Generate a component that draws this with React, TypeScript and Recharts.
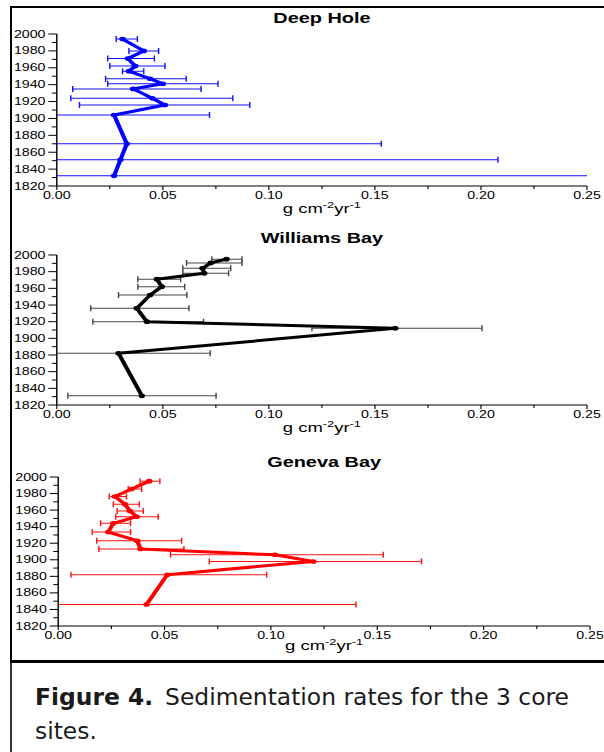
import { ComposedChart, Line, XAxis, YAxis, ErrorBar } from "recharts";

// the source figure is stretched sideways, so each panel is drawn narrow and scaled
const STRETCH = 1.42;
const CHART_W = 425;
const FONT = '"Liberation Sans", Arial, sans-serif';

const YEAR_TICKS = [
  1820, 1830, 1840, 1850, 1860, 1870, 1880, 1890, 1900, 1910, 1920, 1930,
  1940, 1950, 1960, 1970, 1980, 1990, 2000,
];
const RATE_TICKS = [
  0, 0.025, 0.05, 0.075, 0.1, 0.125, 0.15, 0.175, 0.2, 0.225, 0.25,
];

const deepYears = [1994, 1980, 1971, 1962, 1956, 1947, 1941, 1935, 1924, 1916, 1904, 1870, 1851, 1832];
const deepRates = [0.031, 0.041, 0.0335, 0.037, 0.034, 0.044, 0.05, 0.036, 0.045, 0.051, 0.027, 0.033, 0.03, 0.027];
const deepLow = [0.028, 0.034, 0.024, 0.025, 0.031, 0.023, 0.024, 0.0075, 0.0066, 0.0107, -0.019, -0.087, -0.148, -0.223];
const deepHigh = [0.038, 0.048, 0.046, 0.051, 0.041, 0.061, 0.076, 0.068, 0.083, 0.091, 0.072, 0.153, 0.208, 0.277];

const williamsYears = [1995, 1990.5, 1984, 1978, 1971, 1962, 1952, 1936, 1920, 1912, 1882, 1831];
const williamsRates = [0.08, 0.0726, 0.0687, 0.0695, 0.0472, 0.0495, 0.044, 0.0377, 0.0425, 0.1596, 0.0291, 0.0401];
const williamsLow = [0.0731, 0.0612, 0.0594, 0.0594, 0.0382, 0.0382, 0.0291, 0.016, 0.017, 0.1203, -0.0141, 0.0052];
const williamsHigh = [0.0873, 0.0873, 0.082, 0.081, 0.0584, 0.0603, 0.0613, 0.0623, 0.0692, 0.2005, 0.0723, 0.0751];

const genevaYears = [1995, 1985.5, 1976.5, 1967, 1959, 1952, 1944, 1933.5, 1923, 1913, 1906, 1898, 1882, 1846];
const genevaRates = [0.0428, 0.0345, 0.0267, 0.0314, 0.0337, 0.0369, 0.0259, 0.0235, 0.0371, 0.0387, 0.1019, 0.1199, 0.0513, 0.0415];
const genevaLow = [0.0385, 0.0329, 0.024, 0.0259, 0.0277, 0.027, 0.0199, 0.016, 0.0181, 0.0191, 0.0528, 0.071, 0.006, -0.057];
const genevaHigh = [0.0478, 0.0392, 0.0321, 0.0381, 0.04, 0.047, 0.034, 0.034, 0.058, 0.0591, 0.1528, 0.1708, 0.098, 0.14];

type Row = { year: number; rate: number; err: [number, number] };

function buildRows(years: number[], rates: number[], low: number[], high: number[]): Row[] {
  return years.map((year, i) => ({
    year,
    rate: rates[i],
    err: [rates[i] - low[i], high[i] - rates[i]],
  }));
}

function YearTick(props: any) {
  const { x, y, payload } = props;
  const axisX = x + 8; // tickSize 6 + tickMargin 2
  const major = payload.value % 20 === 0;
  return (
    <g>
      <line x1={axisX - (major ? 6 : 3.5)} x2={axisX} y1={y} y2={y} stroke="#000" />
      {major && (
        <text x={x} y={y} dy="0.36em" textAnchor="end" fontSize={10} fontFamily={FONT} fill="#000">
          {payload.value}
        </text>
      )}
    </g>
  );
}

function RateTick(props: any) {
  const { x, y, payload } = props;
  const axisY = y - 6; // tickSize 4 + tickMargin 2
  const major = Math.round(payload.value * 1000) % 50 === 0;
  return (
    <g>
      <line x1={x} x2={x} y1={axisY} y2={axisY + (major ? 4 : 3)} stroke="#000" strokeWidth={0.8} />
      {major && (
        <text x={x} y={y} dy="0.72em" textAnchor="middle" fontSize={10} fontFamily={FONT} fill="#000">
          {payload.value.toFixed(2)}
        </text>
      )}
    </g>
  );
}

function Panel({
  id,
  top,
  height,
  marginTop,
  marginRight,
  axisWidth,
  axisHeight,
  title,
  titleTop,
  labelTop,
  rows,
  color,
  barColor,
}: {
  id: string;
  top: number;
  height: number;
  marginTop: number;
  marginRight: number;
  axisWidth: number;
  axisHeight: number;
  title: string;
  titleTop: number;
  labelTop: number;
  rows: Row[];
  color: string;
  barColor: string;
}) {
  const cx = (axisWidth + CHART_W - marginRight) / 2;
  const plotW = CHART_W - marginRight - axisWidth;
  const plotH = height - marginTop - axisHeight;
  return (
    <div
      id={id}
      style={{
        position: "absolute",
        left: 0,
        top,
        width: CHART_W,
        height,
        transform: `scaleX(${STRETCH})`,
        transformOrigin: "0 0",
      }}
    >
      {/* error bars are cut at the plot edges, like the original */}
      <svg width={0} height={0} style={{ position: "absolute" }}>
        <defs>
          <clipPath id={`${id}-clip`} clipPathUnits="userSpaceOnUse">
            <rect x={axisWidth} y={marginTop - 4} width={plotW} height={plotH + 8} />
          </clipPath>
        </defs>
      </svg>
      <style>{`#${id} .recharts-errorBars { clip-path: url(#${id}-clip); }`}</style>
      <div
        style={{
          position: "absolute",
          left: 0,
          top: titleTop,
          width: cx * 2,
          textAlign: "center",
          fontFamily: FONT,
          fontWeight: 700,
          fontSize: 14,
          lineHeight: "14px",
          color: "#000",
        }}
      >
        {title}
      </div>
      <ComposedChart
        layout="vertical"
        width={CHART_W}
        height={height}
        data={rows}
        margin={{ top: marginTop, right: marginRight, bottom: 0, left: 0 }}
      >
        <XAxis
          type="number"
          domain={[0, 0.25]}
          ticks={RATE_TICKS}
          interval={0}
          allowDataOverflow
          height={axisHeight}
          tickSize={4}
          tickMargin={2}
          tickLine={false}
          tick={<RateTick />}
          axisLine={{ stroke: "#000" }}
        />
        <XAxis
          xAxisId="top"
          orientation="top"
          type="number"
          domain={[0, 0.25]}
          height={0}
          tick={false}
          tickLine={false}
          axisLine={{ stroke: "#333", strokeWidth: 1.5 }}
        />
        <YAxis
          type="number"
          dataKey="year"
          domain={[1820, 2000]}
          ticks={YEAR_TICKS}
          interval={0}
          reversed
          allowDataOverflow
          width={axisWidth}
          tickSize={6}
          tickMargin={2}
          tickLine={false}
          tick={<YearTick />}
          axisLine={{ stroke: "#000" }}
        />
        <YAxis
          yAxisId="right"
          orientation="right"
          type="number"
          domain={[1820, 2000]}
          width={0}
          tick={false}
          tickLine={false}
          axisLine={{ stroke: "#8a8a8a", strokeWidth: 1.5 }}
        />
        <Line
          type="linear"
          dataKey="rate"
          stroke={color}
          strokeWidth={3}
          strokeLinejoin="round"
          dot={{ r: 1.8, fill: color, stroke: color, strokeWidth: 1 }}
          isAnimationActive={false}
        >
          <ErrorBar
            dataKey="err"
            direction="x"
            width={3}
            stroke={barColor}
            strokeWidth={1}
            isAnimationActive={false}
          />
        </Line>
      </ComposedChart>
      <div
        style={{
          position: "absolute",
          left: 0,
          top: labelTop,
          width: cx * 2,
          textAlign: "center",
          fontFamily: FONT,
          fontSize: 13,
          lineHeight: "13px",
          color: "#000",
        }}
      >
        g cm<sup style={{ fontSize: 9, lineHeight: 0 }}>-2</sup>yr
        <sup style={{ fontSize: 9, lineHeight: 0 }}>-1</sup>
      </div>
    </div>
  );
}

export default function App() {
  return (
    <div
      style={{
        position: "absolute",
        left: 0,
        top: 0,
        width: 604,
        height: 752,
        overflow: "hidden",
        background: "#fff",
      }}
    >
      <div
        style={{
          position: "absolute",
          left: 10,
          top: 6,
          width: 700,
          height: 652,
          borderTop: "2px solid #000",
          borderLeft: "2px solid #000",
          borderBottom: "3px solid #000",
        }}
      />
      <div
        style={{
          position: "absolute",
          left: 10,
          top: 663,
          height: 100,
          borderLeft: "2px solid #333",
        }}
      />
      <Panel
        id="deep-hole"
        top={0}
        height={215}
        marginTop={34}
        marginRight={11.6}
        axisWidth={40}
        axisHeight={29}
        title="Deep Hole"
        titleTop={10.8}
        labelTop={202}
        rows={buildRows(deepYears, deepRates, deepLow, deepHigh)}
        color="#0000ff"
        barColor="#1010ff"
      />
      <Panel
        id="williams-bay"
        top={220}
        height={215}
        marginTop={35}
        marginRight={11.6}
        axisWidth={40}
        axisHeight={30}
        title="Williams Bay"
        titleTop={11.2}
        labelTop={201}
        rows={buildRows(williamsYears, williamsRates, williamsLow, williamsHigh)}
        color="#000000"
        barColor="#444444"
      />
      <Panel
        id="geneva-bay"
        top={440}
        height={220}
        marginTop={37}
        marginRight={9.5}
        axisWidth={41}
        axisHeight={34}
        title="Geneva Bay"
        titleTop={14.8}
        labelTop={199}
        rows={buildRows(genevaYears, genevaRates, genevaLow, genevaHigh)}
        color="#ff0000"
        barColor="#ff1010"
      />
      <div
        style={{
          position: "absolute",
          left: 35,
          top: 680,
          width: 565,
          fontFamily: '"DejaVu Sans", Verdana, sans-serif',
          fontSize: 23.4,
          lineHeight: "34px",
          color: "#1a1a1a",
          whiteSpace: "nowrap",
        }}
      >
        <div>
          <span style={{ fontWeight: 700, marginRight: 12 }}>Figure 4.</span>
          <span>Sedimentation rates for the 3 core</span>
        </div>
        <div>sites.</div>
      </div>
    </div>
  );
}
